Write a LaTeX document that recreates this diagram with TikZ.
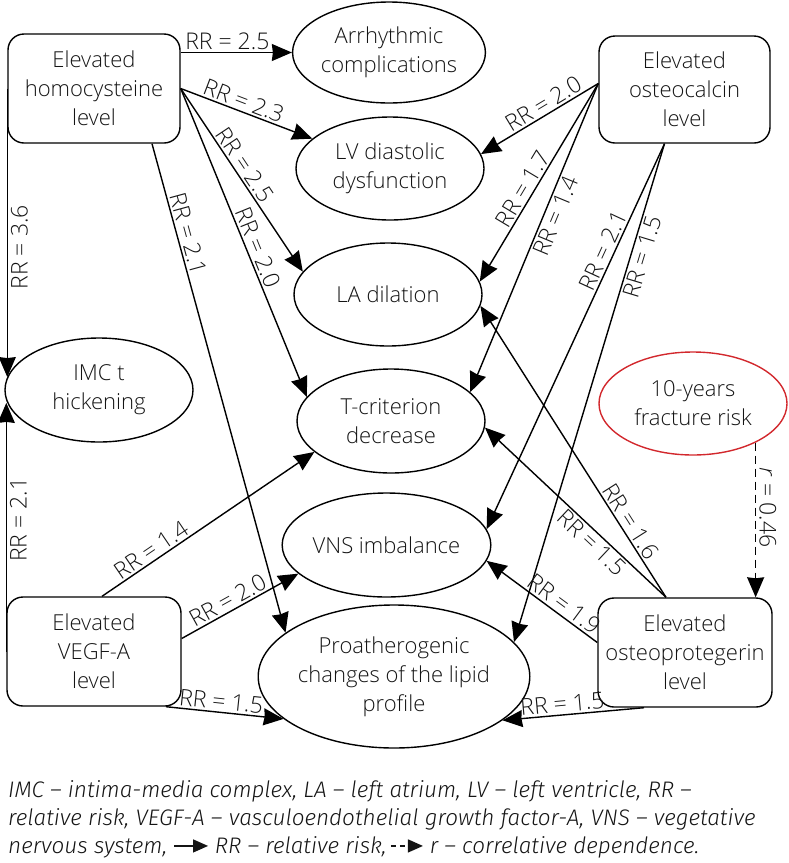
\documentclass[tikz,border=0pt]{standalone}
\usepackage{fontspec}
\setmainfont{Open Sans}[UprightFont={* Light}, ItalicFont={* Light Italic}]
\newfontfamily\legfont{Fira Sans}[UprightFont={* Light Italic}, ItalicFont={* Light Italic}]
\usetikzlibrary{shapes.geometric,arrows.meta}
\definecolor{txt}{RGB}{20,20,20}
\definecolor{redline}{RGB}{210,40,45}
\begin{document}
\begin{tikzpicture}[x=1pt,y=-1pt,
  font=\fontsize{22}{29}\selectfont,
  boxnode/.style={draw, line width=1.4pt, rounded corners=16pt, minimum height=109pt, align=center, inner sep=0pt, text=txt},
  oval/.style={draw, ellipse, line width=1.4pt, minimum width=188pt, minimum height=103pt, inner sep=0pt, align=center, text=txt},
  conn/.style={-{Stealth[length=20pt,width=17pt,inset=1pt]}, line width=1.4pt},
  lab/.style={text=txt, inner sep=2pt, sloped, font=\fontsize{23}{28}\selectfont},
  vlab/.style={text=txt, inner sep=3pt, font=\fontsize{23}{28}\selectfont},
  legend/.style={text=txt, inner sep=0pt, font=\fontsize{22.5}{28}\legfont}
]
\useasboundingbox (0,0) rectangle (788,863);

% boxes
\node[boxnode, minimum width=172pt] (hom) at (94,88.5) {Elevated\\homocysteine\\level};
\node[boxnode, minimum width=171pt, minimum height=107pt] (ost) at (684.5,89.5) {Elevated\\osteocalcin\\level};
\node[boxnode, minimum width=174pt] (veg) at (94,651.5) {Elevated\\VEGF-A\\level};
\node[boxnode, minimum width=174pt] (opg) at (685,652.5) {Elevated\\osteoprotegerin\\level};

% ellipses
\node[oval, minimum height=101pt] (arrh) at (389,52.5) {Arrhythmic\\complications};
\node[oval] (lv) at (390,168.5) {LV diastolic\\dysfunction};
\node[oval] (la) at (388,294.5) {LA dilation};
\node[oval, minimum height=104pt] (tc) at (391,421) {T-criterion\\decrease};
\node[oval, minimum height=104pt] (vns) at (386.5,545) {VNS imbalance};
\node[oval, minimum width=220pt, minimum height=143pt] (pro) at (394,676.5) {Proatherogenic\\changes of the lipid\\profile};
\node[oval, minimum height=104pt] (imc) at (99,390) {IMC t\\hickening};
\node[oval, draw=redline] (frac) at (693,403.5) {10-years\\fracture risk};

% from homocysteine
\draw[conn] (hom.east |- arrh.west) -- node[lab, pos=.42, above] {RR = 2.5} (arrh.west);
\draw[conn] (hom.east) -- node[lab, pos=.45, above] {RR = 2.3} (lv.159);
\draw[conn] (hom.east) -- node[lab, pos=.45, above] {RR = 2.5} (la.165);
\draw[conn] (hom.east) -- node[lab, pos=.53, above] {RR = 2.0} (tc.164);
\draw[conn] ([xshift=58pt]hom.south) -- node[lab, pos=.19, above] {RR = 2.1} (pro.158);
\draw[conn] (hom.west) -- node[vlab, pos=.55, rotate=90, anchor=north] {RR = 3.6} (hom.west |- imc.172);

% from VEGF-A
\draw[conn] (veg.west) -- node[vlab, pos=.53, rotate=90, anchor=north] {RR = 2.1} (veg.west |- imc.188);
\draw[conn] ([xshift=8pt]veg.north) -- node[lab, pos=.26, above] {RR = 1.4} (tc.202);
\draw[conn] ([yshift=13pt]veg.east) -- node[lab, pos=.44, above] {RR = 2.0} (vns.198);
\draw[conn] ([xshift=72pt]veg.south) -- node[lab, pos=.46, above] {RR = 1.5} (pro.201);

% from osteocalcin
\draw[conn] ([yshift=6pt]ost.west) -- node[lab, pos=.42, above] {RR = 2.0} (lv.9);
\draw[conn] ([yshift=6pt]ost.west) -- node[lab, pos=.56, above] {RR = 1.7} (la.8);
\draw[conn] ([yshift=6pt]ost.west) -- node[lab, pos=.415, below] {RR = 1.4} (tc.20);
\draw[conn] ([xshift=-20pt]ost.south) -- node[lab, pos=.29, above] {RR = 2.1} (vns.9);
\draw[conn] ([xshift=-20pt]ost.south) -- node[lab, pos=.22, below] {RR = 1.5} (pro.16);

% from osteoprotegerin
\draw[conn] ([xshift=-19pt]opg.north) -- node[lab, pos=.24, above] {RR = 1.6} (la.-7);
\draw[conn] ([xshift=-19pt]opg.north) -- node[lab, pos=.37, below] {RR = 1.5} (tc.-4);
\draw[conn] ([yshift=10pt]opg.west) -- node[lab, pos=.36, above] {RR = 1.9} (vns.-9);
\draw[conn] ([xshift=-41pt]opg.south) -- node[lab, pos=.57, above] {RR = 1.5} (pro.-22);

% correlation
\draw[conn, dash pattern=on 8pt off 5pt] (frac.-32) -- node[vlab, pos=.42, rotate=-90, anchor=south] {\textit{r} = 0.46} (frac.-32 |- opg.north);

% legend
\node[legend, anchor=base west] (leg1) at (8,797) {IMC – intima-media complex, LA – left atrium, LV – left ventricle, RR –};
\node[legend, anchor=base west] (leg2) at (8,825) {relative risk, VEGF-A – vasculoendothelial growth factor-A, VNS – vegetative};
\node[legend, anchor=base west] (leg3) at (8,853) {nervous system, \tikz[baseline=-0.6ex]\draw[-{Triangle[length=15pt,width=13pt]}, line width=1.3pt] (0pt,0pt) -- (34pt,0pt); RR – relative risk,\,\tikz[baseline=-0.6ex]\draw[dash pattern=on 5pt off 4pt, -{Triangle[length=15pt,width=13pt]}, line width=1.3pt] (0pt,0pt) -- (32pt,0pt); r – correlative dependence.};
\end{tikzpicture}
\end{document}
